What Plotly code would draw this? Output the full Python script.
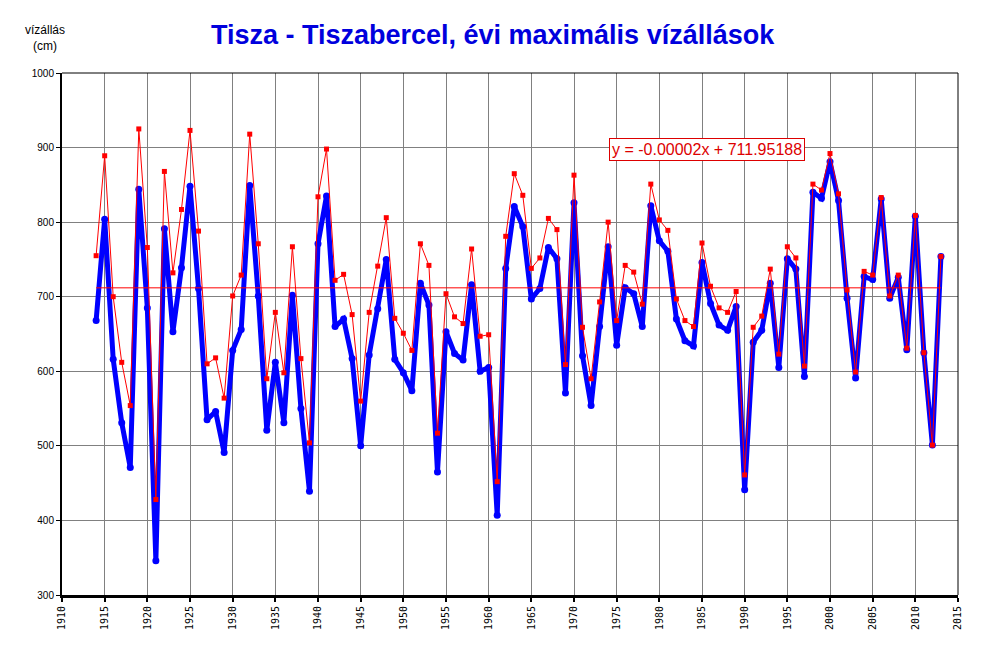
import plotly.graph_objects as go

years = list(range(1914, 2014))

# red series (thin line)
red_vals = [755, 889, 700, 612, 554, 925, 766, 428, 868, 732,
            817, 923, 788, 610, 618, 564, 701, 729, 918, 771,
            590, 679, 598, 767, 617, 504, 834, 898, 722, 730,
            676, 560, 679, 741, 806, 671, 651, 628, 771, 742,
            517, 704, 673, 664, 764, 647, 649, 452, 781, 865,
            836, 738, 752, 805, 790, 609, 863, 659, 590, 693,
            800, 668, 742, 733, 690, 851, 803, 789, 697, 668,
            660, 772, 714, 685, 679, 707, 461, 659, 674, 737,
            623, 767, 752, 607, 851, 843, 892, 838, 709, 599,
            734, 729, 833, 701, 729, 631, 809, 625, 501, 754]

# blue series (thick line)
blue_vals = [668, 804, 616, 531, 471, 844, 685, 346, 791, 653,
             739, 848, 711, 535, 546, 491, 628, 656, 849, 701,
             521, 612, 531, 702, 550, 439, 771, 835, 660, 670,
             617, 500, 622, 684, 750, 616, 598, 574, 718, 689,
             465, 653, 624, 615, 716, 600, 605, 407, 738, 821,
             794, 697, 711, 766, 751, 571, 826, 621, 554, 660,
             767, 635, 712, 704, 660, 822, 775, 761, 670, 641,
             634, 746, 691, 662, 655, 687, 441, 639, 655, 718,
             605, 751, 737, 593, 840, 832, 881, 829, 698, 591,
             727, 723, 831, 698, 726, 629, 808, 625, 501, 754]

slope = -0.00002
intercept = 711.95188
trend_x = [years[0], years[-1]]
trend_y = [slope * x + intercept for x in trend_x]

x_ticks = list(range(1910, 2016, 5))
y_ticks = list(range(300, 1001, 100))

fig = go.Figure()
fig.add_trace(go.Scatter(
    x=years, y=blue_vals, mode="lines+markers",
    line=dict(color="#0000FF", width=5),
    marker=dict(color="#0000FF", size=7),
    showlegend=False,
))
fig.add_trace(go.Scatter(
    x=trend_x, y=trend_y, mode="lines",
    line=dict(color="#FF0000", width=1),
    showlegend=False,
))
fig.add_trace(go.Scatter(
    x=years, y=red_vals, mode="lines+markers",
    line=dict(color="#FF0000", width=1),
    marker=dict(color="#FF0000", size=5, symbol="square"),
    showlegend=False,
))

# page body has an 8px margin, so the margins are shifted to compensate
fig.update_layout(
    width=995, height=658,
    margin=dict(l=54, r=45, t=65, b=71),
    paper_bgcolor="white", plot_bgcolor="white",
    title=dict(
        text="<b>Tisza - Tiszabercel, évi maximális vízállások</b>",
        x=0.487, xanchor="center", y=0.959, yanchor="middle",
        font=dict(family="Liberation Sans Narrow, Arial Narrow, Liberation Sans", size=27, color="#0000DD"),
    ),
    xaxis=dict(
        range=[1910, 2015], tickmode="array", tickvals=x_ticks,
        ticktext=[str(v) for v in x_ticks], tickangle=-90,
        tickfont=dict(family="DejaVu Sans Mono", size=10, color="black"),
        showgrid=True, gridcolor="#808080", gridwidth=1,
        showline=True, linecolor="black", linewidth=3, mirror=False,
        ticks="outside", ticklen=4, tickcolor="black", tickwidth=2,
        zeroline=False,
    ),
    yaxis=dict(
        range=[300, 1000], tickmode="array", tickvals=y_ticks,
        tickfont=dict(family="Liberation Sans Narrow, Liberation Sans", size=10, color="black"),
        showgrid=True, gridcolor="#808080", gridwidth=1,
        showline=True, linecolor="black", linewidth=2,
        ticks="outside", ticklen=4, tickcolor="black",
        zeroline=False,
    ),
    shapes=[
        dict(type="line", xref="paper", yref="paper", x0=0, x1=1, y0=1, y1=1,
             line=dict(color="black", width=1)),
        dict(type="line", xref="paper", yref="paper", x0=1, x1=1, y0=0, y1=1,
             line=dict(color="black", width=1)),
    ],
    annotations=[
        dict(text="vízállás<br>(cm)", xref="paper", yref="paper",
             x=-0.019, y=1.067, xanchor="center", yanchor="middle", showarrow=False,
             font=dict(family="Liberation Sans Narrow, Liberation Sans", size=12, color="black")),
        dict(text="y = -0.00002x + 711.95188", xref="x", yref="y",
             x=1985.6, y=897, xanchor="center", yanchor="middle", showarrow=False,
             font=dict(family="Liberation Sans, Arial", size=16, color="#DD0000"),
             bordercolor="#DD0000", borderwidth=1, borderpad=2, bgcolor="white"),
    ],
)

fig.write_html("out.html")
